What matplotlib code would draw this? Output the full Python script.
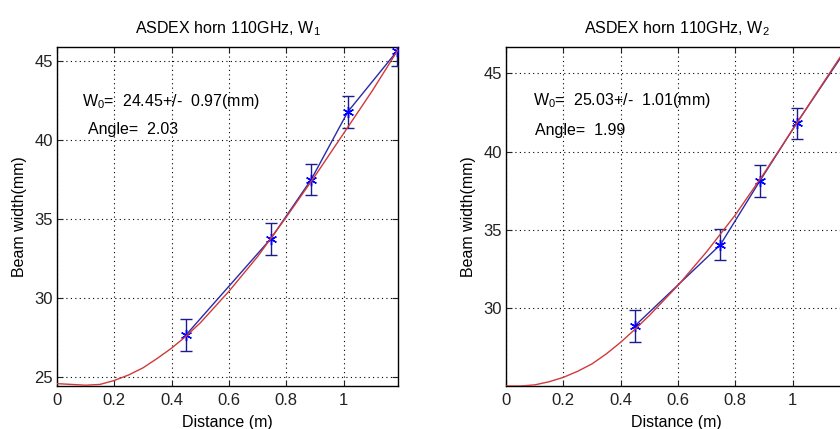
import numpy as np
import matplotlib
matplotlib.use('Agg')
import matplotlib.pyplot as plt

plt.rcParams['font.family'] = ['Liberation Sans', 'DejaVu Sans']
plt.rcParams['mathtext.fontset'] = 'custom'
plt.rcParams['mathtext.rm'] = 'Liberation Sans'
plt.rcParams['mathtext.it'] = 'Liberation Sans'
plt.rcParams['mathtext.default'] = 'regular'

# measured points, W1
dist1 = [0.45, 0.746, 0.887, 1.015, 1.188]
w1 = [27.63, 33.73, 37.48, 41.78, 45.65]
err1 = [1.0, 1.0, 1.0, 1.0, 1.0]
# fitted curve, W1
fit_z1 = [0, 0.05, 0.1, 0.15, 0.2, 0.25, 0.3, 0.35, 0.4, 0.45, 0.5, 0.6, 0.7, 0.8, 0.9, 1.0, 1.1, 1.19]
fit_w1 = [24.55, 24.5, 24.45, 24.5, 24.75, 25.1, 25.55, 26.15, 26.8, 27.55, 28.4, 30.4, 32.6, 35.1, 37.7,
		  40.4, 43.1, 45.7]

# measured points, W2
dist2 = [0.451, 0.748, 0.885, 1.014, 1.19]
w2 = [28.89, 34.05, 38.1, 41.81, 46.6]
err2 = [1.02, 1.0, 1.03, 0.98, 1.0]
# fitted curve, W2
fit_z2 = [0, 0.05, 0.1, 0.15, 0.2, 0.25, 0.3, 0.35, 0.4, 0.45, 0.5, 0.6, 0.7, 0.8, 0.9, 1.0, 1.1, 1.19]
fit_w2 = [25.03, 25.03, 25.1, 25.3, 25.58, 25.97, 26.44, 27.08, 27.82, 28.65, 29.53, 31.45, 33.6, 35.95,
		  38.6, 41.4, 44.2, 46.7]

titles = ['ASDEX horn 110GHz, W$_1$', 'ASDEX horn 110GHz, W$_2$']
w0_text = ['W$_0$=  24.45+/-  0.97(mm)', 'W$_0$=  25.03+/-  1.01(mm)']
angle_text = ['Angle=  2.03', 'Angle=  1.99']
ylims = [(24.4, 45.9), (25.03, 46.7)]
yticks = [[25, 30, 35, 40, 45], [30, 35, 40, 45]]
text_pos = [((0.086, 42.43), (0.108, 40.67)), ((0.095, 43.29), (0.101, 41.37))]


def draw(ax, dist, w, err, fz, fw, title, t0, t1, ylim, yt, pos):
	ax.errorbar(dist, w, yerr=err, fmt='-', color='#2a2aa8', ecolor='#1c1c8c',
				elinewidth=1.0, capsize=4, lw=1.0, marker=(6, 2, 0), ms=8,
				mec='#0000ff', mew=1.0, zorder=3)
	ax.plot(fz, fw, color='#d03a3a', lw=1.0, zorder=4)
	ax.set_xlim(0, 1.19)
	ax.set_ylim(ylim)
	ax.set_xticks([0, 0.2, 0.4, 0.6, 0.8, 1])
	ax.set_xticklabels(['0', '0.2', '0.4', '0.6', '0.8', '1'])
	ax.set_yticks(yt)
	ax.grid(True, color='black', linestyle=(0, (1, 3)), linewidth=0.8)
	ax.tick_params(direction='in', top=True, right=True, length=4, labelsize=12,
				   colors='#222222')
	ax.tick_params(axis='x', pad=5)
	ax.tick_params(axis='y', pad=3)
	for s in ax.spines.values():
		s.set_linewidth(1.0)
		s.set_color('black')
	ax.set_title(title, fontsize=11.5, pad=10)
	ax.set_xlabel('Distance (m)', fontsize=11.5, labelpad=5)
	ax.set_ylabel('Beam width(mm)', fontsize=11.5, labelpad=5)
	ax.text(pos[0][0], pos[0][1], t0, fontsize=11.5, va='center', ha='left')
	ax.text(pos[1][0], pos[1][1], t1, fontsize=11.5, va='center', ha='left')


fig = plt.figure(figsize=(8.4, 4.29), dpi=100)
ax1 = fig.add_axes([57 / 840, 43 / 429, 341 / 840, 339.3 / 429])
ax2 = fig.add_axes([506 / 840, 43 / 429, 341 / 840, 339.3 / 429])

draw(ax1, dist1, w1, err1, fit_z1, fit_w1, titles[0], w0_text[0], angle_text[0], ylims[0], yticks[0], text_pos[0])
draw(ax2, dist2, w2, err2, fit_z2, fit_w2, titles[1], w0_text[1], angle_text[1], ylims[1], yticks[1], text_pos[1])

plt.savefig('out.png', dpi=100)
